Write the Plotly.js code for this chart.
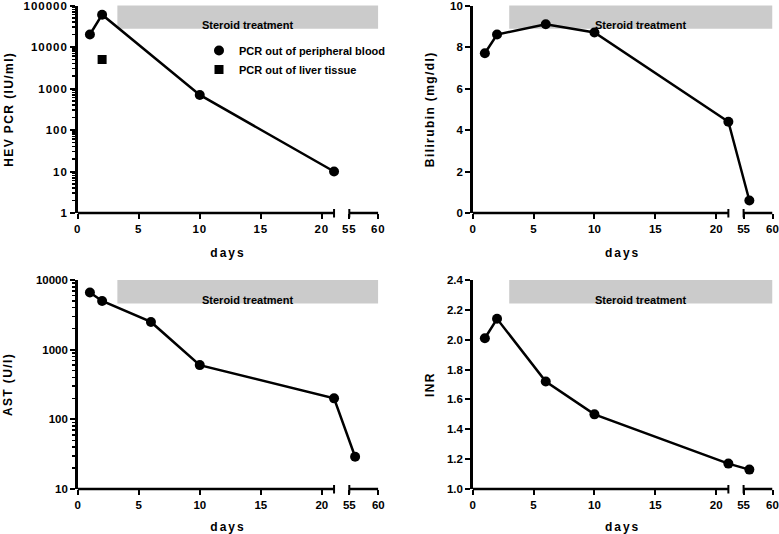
<!DOCTYPE html>
<html>
<head>
<meta charset="utf-8">
<script src="https://cdn.plot.ly/plotly-3.0.1.min.js"></script>
<style>
  html, body { margin: 0; padding: 0; background: #fff; }
  #chart { width: 779px; height: 534px; }
  .xtick text, .ytick text { letter-spacing: 1px; }
  g[class^="g-y"] text { letter-spacing: 1.4px; }
  g[class^="g-x"] text { letter-spacing: 2px; }
</style>
</head>
<body>
<div id="chart"></div>
<script>
// ---------------- data ----------------
const bloodDays = [1, 2, 10, 21];
const hevBlood = [20000, 60000, 700, 10];
const liverDays = [2];
const hevLiver = [5000];

const days = [1, 2, 6, 10, 21, 56];
const bilirubin = [7.7, 8.6, 9.1, 8.7, 4.4, 0.6];
const ast = [6600, 5000, 2500, 600, 200, 29];
const inr = [2.01, 2.14, 1.72, 1.50, 1.17, 1.13];

const xTickDays = [0, 5, 10, 15, 20, 55, 60];
const hevTicks = [1, 10, 100, 1000, 10000, 100000];
const bilirubinTicks = [0, 2, 4, 6, 8, 10];
const astTicks = [10, 100, 1000, 10000];
const inrTicks = [1.0, 1.2, 1.4, 1.6, 1.8, 2.0, 2.2, 2.4];
const steroidStart = [3.25, 3.0, 3.25, 3.0];
const steroidEnd = 60;
const yTitles = ['HEV PCR (IU/ml)', 'Bilirubin (mg/dl)', 'AST (U/l)', 'INR'];

// ------------- broken x axis (0–21 | 55–60) -------------
const BREAK_AT = 21, RESUME_AT = 55, AXIS_END = 60;
const GAP = 1.25, SEG2_SCALE = 0.475;
function pos(d) { return d <= BREAK_AT ? d : BREAK_AT + GAP + (d - RESUME_AT) * SEG2_SCALE; }
const X_MAX = pos(AXIS_END);

const FONT = 'Liberation Sans, Arial, sans-serif';
const W = 779, H = 534;
const xDomains = [[77.7 / W, 378.3 / W], [472.7 / W, 772.5 / W]];
const yDomains = [[(H - 213) / H, (H - 5.5) / H], [(H - 489) / H, (H - 280) / H]];

const lineStyle = { color: '#000', width: 2.5 };
const markerStyle = { color: '#000', size: 10, symbol: 'circle' };

const traces = [];
function series(i, xs, ys, name, legend, mode, marker) {
  traces.push({
    type: 'scatter', mode: mode,
    x: xs.map(pos), y: ys, name: name, showlegend: legend,
    xaxis: 'x' + (i === 1 ? '' : i), yaxis: 'y' + (i === 1 ? '' : i),
    line: lineStyle, marker: marker, cliponaxis: false
  });
}
series(1, bloodDays, hevBlood, 'blood line', false, 'lines', markerStyle);
series(1, bloodDays, hevBlood, 'PCR out of peripheral blood', true, 'markers', markerStyle);
series(1, liverDays, hevLiver, 'PCR out of liver tissue', true, 'markers', { color: '#000', size: 9, symbol: 'square' });
series(2, days, bilirubin, 'Bilirubin', false, 'lines+markers', markerStyle);
series(3, days, ast, 'AST', false, 'lines+markers', markerStyle);
series(4, days, inr, 'INR', false, 'lines+markers', markerStyle);

const tickFont = { family: FONT, size: 11.5, weight: 'bold', color: '#000' };
const titleFont = { family: FONT, size: 12, weight: 'bold', color: '#000' };

const layout = {
  width: W, height: H,
  margin: { l: 0, r: 0, t: 0, b: 0 },
  paper_bgcolor: '#fff', plot_bgcolor: 'rgba(0,0,0,0)',
  showlegend: true,
  legend: {
    x: 199 / W, y: (H - 36) / H, xanchor: 'left', yanchor: 'top',
    font: { family: FONT, size: 11, weight: 'bold', color: '#000' },
    bgcolor: 'rgba(0,0,0,0)', borderwidth: 0, itemwidth: 30, tracegroupgap: 0
  },
  shapes: [], annotations: []
};

const yRanges = [[0, 5], [0, 10], [1, 4], [1.0, 2.4]];
const yTypes = ['log', 'linear', 'log', 'linear'];
const yTicks = [hevTicks, bilirubinTicks, astTicks, inrTicks];
const yStandoff = [8, 13, 21, 10];
const xStandoff = [14, 13];

for (let i = 1; i <= 4; i++) {
  const col = (i - 1) % 2, row = Math.floor((i - 1) / 2);
  const sfx = i === 1 ? '' : String(i);
  const xId = 'x' + sfx, yId = 'y' + sfx;
  layout['xaxis' + sfx] = {
    domain: xDomains[col], anchor: yId, range: [0, X_MAX],
    showline: false, showgrid: false, zeroline: false,
    ticks: 'outside', ticklen: 5, tickwidth: 2, tickcolor: '#000',
    tickmode: 'array', tickvals: xTickDays.map(pos), ticktext: xTickDays.map(String),
    tickfont: tickFont, ticklabeloverflow: 'allow',
    title: { text: 'days', font: titleFont, standoff: xStandoff[row] }
  };
  const ticks = yTicks[i - 1];
  const ya = {
    domain: yDomains[row], anchor: xId, type: yTypes[i - 1], range: yRanges[i - 1],
    showline: true, linewidth: 2.5, linecolor: '#000', mirror: false,
    showgrid: false, zeroline: false,
    ticks: 'outside', ticklen: 5, tickwidth: 2, tickcolor: '#000',
    tickmode: 'array', tickvals: ticks,
    ticktext: ticks.map(v => i === 4 ? v.toFixed(1) : String(v)),
    tickfont: tickFont, ticklabeloverflow: 'allow',
    title: { text: yTitles[i - 1], font: titleFont, standoff: yStandoff[i - 1] }
  };
  if (yTypes[i - 1] === 'log') {
    ya.minor = { tickmode: 'linear', dtick: 'D1', ticks: 'outside', ticklen: 3.5, tickwidth: 1.5,
      tickcolor: '#000', showgrid: false };
  }
  layout['yaxis' + sfx] = ya;

  const yDom = yId + ' domain';
  const yBase = yDomains[row][0];
  // broken x-axis line segments
  [[0, BREAK_AT], [RESUME_AT, AXIS_END]].forEach(seg => {
    layout.shapes.push({ type: 'line', xref: xId, yref: yDom, x0: pos(seg[0]), x1: pos(seg[1]), y0: 0, y1: 0,
      line: { color: '#000', width: 2.5 } });
  });
  // break bars
  [BREAK_AT, RESUME_AT].forEach(d => {
    layout.shapes.push({ type: 'line', xref: xId, yref: 'paper',
      x0: pos(d), x1: pos(d), y0: yBase - 4.5 / H, y1: yBase + 4 / H, line: { color: '#000', width: 2 } });
  });
  // steroid treatment bar
  layout.shapes.push({ type: 'rect', xref: xId, yref: yDom, layer: 'below',
    x0: pos(steroidStart[i - 1]), x1: pos(steroidEnd), y0: 0.888, y1: 1.0,
    fillcolor: '#cbcbcb', line: { width: 0 } });
  layout.annotations.push({ xref: xId, yref: yDom,
    x: (pos(steroidStart[i - 1]) + pos(steroidEnd)) / 2, y: 0.944,
    text: 'Steroid treatment', showarrow: false,
    font: { family: FONT, size: 11, weight: 'bold', color: '#000' } });
}

Plotly.newPlot('chart', traces, layout, { staticPlot: true, displayModeBar: false });
</script>
</body>
</html>
